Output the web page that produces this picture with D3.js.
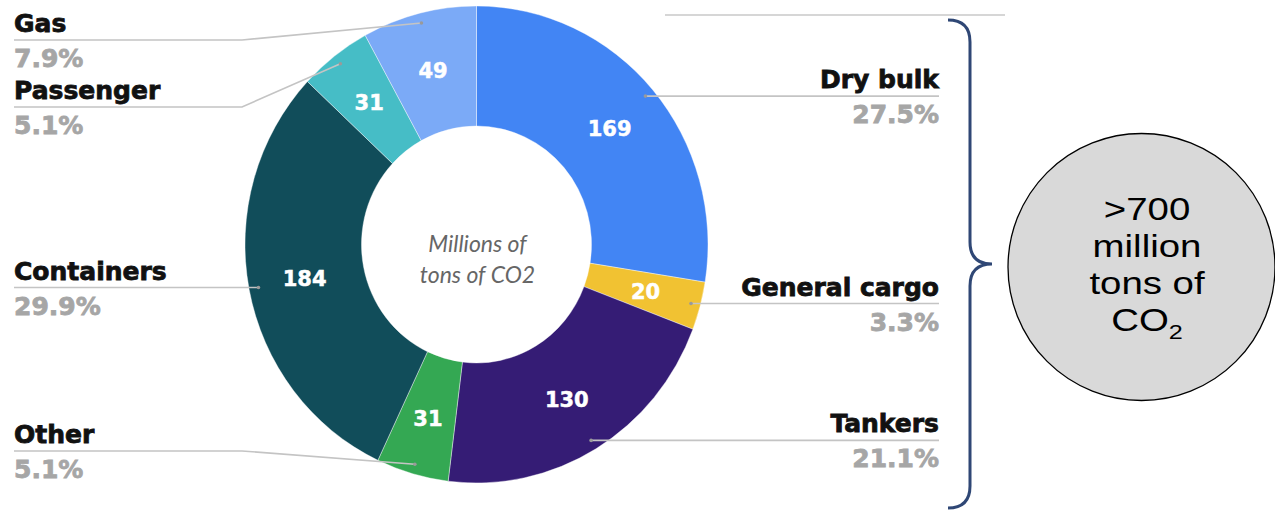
<!DOCTYPE html>
<html>
<head>
<meta charset="utf-8">
<script src="https://cdn.jsdelivr.net/npm/d3@7"></script>
<style>
  body { margin: 0; background: #fff; }
  svg { display: block; }
</style>
</head>
<body>
<div id="chart"></div>
<script>
var categories = ['Dry bulk', 'General cargo', 'Tankers', 'Other', 'Containers', 'Passenger', 'Gas'],
    values = [169, 20, 130, 31, 184, 31, 49],
    shares = ['27.5%', '3.3%', '21.1%', '5.1%', '29.9%', '5.1%', '7.9%'],
    colors = ['#4285f4', '#f1c232', '#351c75', '#34a853', '#114d5a', '#46bdc6', '#7baaf7'],
    centerLines = ['Millions of', 'tons of CO2'],
    totalLines = ['>700', 'million', 'tons of']

var width = 1275,
    height = 512,
    cx = 476.5, cy = 244.5,
    rOuter = 231.5, rInner = 115,
    squash = 238.5 / 231.5

// where the callout text sits: side, y of the leader line
var layout = {
    'Dry bulk':      {side: 'right'},
    'General cargo': {side: 'right'},
    'Tankers':       {side: 'right'},
    'Other':         {side: 'left', lineY: 451},
    'Containers':    {side: 'left'},
    'Passenger':     {side: 'left', lineY: 107},
    'Gas':           {side: 'left', lineY: 40}
}
var leftX = 14, elbowX = 242, rightX = 939

var data = categories.map(function(c, i) {
    return {name: c, value: values[i], share: shares[i], color: colors[i]}
})

var svg = d3.select('#chart').append('svg')
    .attr('width', width)
    .attr('height', height)

var pie = d3.pie().sort(null).value(function(d) { return d.value })
var arcs = pie(data)

var arc = d3.arc().innerRadius(rInner).outerRadius(rOuter)
var midArc = d3.arc().innerRadius(175).outerRadius(175)
var dotArc = d3.arc().innerRadius(222).outerRadius(222)

var donut = svg.append('g')
    .attr('transform', 'translate(' + cx + ',' + cy + ') scale(1,' + squash + ')')

donut.selectAll('path')
    .data(arcs)
    .enter().append('path')
    .attr('d', arc)
    .attr('fill', function(d) { return d.data.color })
    .attr('stroke', '#fff')
    .attr('stroke-width', 0.4)

function pt(a, d) {
    var c = a.centroid(d)
    return [cx + c[0], cy + c[1] * squash]
}

// value labels
svg.selectAll('text.val')
    .data(arcs)
    .enter().append('text')
    .attr('class', 'val')
    .attr('x', function(d) { return pt(midArc, d)[0] })
    .attr('y', function(d) { return pt(midArc, d)[1] + 8 })
    .attr('text-anchor', 'middle')
    .attr('fill', '#fff')
    .attr('stroke', '#fff')
    .attr('stroke-width', 0.5)
    .style('font', 'bold 21px "DejaVu Sans"')
    .text(function(d) { return d.data.value })

// leader lines
var line = d3.line()
svg.selectAll('path.lead')
    .data(arcs)
    .enter().append('path')
    .attr('class', 'lead')
    .attr('fill', 'none')
    .attr('stroke', '#c4c4c4')
    .attr('stroke-width', 1.6)
    .attr('d', function(d) {
        var p = pt(dotArc, d), L = layout[d.data.name]
        if (L.side == 'right') return line([p, [rightX, p[1]]])
        var y = L.lineY != null ? L.lineY : p[1]
        return line([p, [elbowX, y], [leftX, y]])
    })

svg.selectAll('circle.dot')
    .data(arcs)
    .enter().append('circle')
    .attr('class', 'dot')
    .attr('cx', function(d) { return pt(dotArc, d)[0] })
    .attr('cy', function(d) { return pt(dotArc, d)[1] })
    .attr('r', 1.8)
    .attr('fill', '#9a9a9a')

// callout labels
var labels = svg.selectAll('g.lab')
    .data(arcs)
    .enter().append('g')
    .attr('class', 'lab')
    .attr('transform', function(d) {
        var L = layout[d.data.name]
        var y = L.lineY != null ? L.lineY : pt(dotArc, d)[1]
        return 'translate(' + (L.side == 'right' ? rightX : leftX) + ',' + y + ')'
    })
    .attr('text-anchor', function(d) { return layout[d.data.name].side == 'right' ? 'end' : 'start' })

labels.append('text')
    .attr('y', -8)
    .attr('fill', '#111')
    .attr('stroke', '#111')
    .attr('stroke-width', 0.8)
    .style('font', 'bold 25px "DejaVu Sans"')
    .text(function(d) { return d.data.name })

labels.append('text')
    .attr('y', 27)
    .attr('fill', '#a6a6a6')
    .attr('stroke', '#a6a6a6')
    .attr('stroke-width', 0.8)
    .style('font', 'bold 25px "DejaVu Sans"')
    .text(function(d) { return d.data.share })

// centre caption
svg.append('g')
    .selectAll('text')
    .data(centerLines)
    .enter().append('text')
    .attr('x', cx + 1)
    .attr('y', function(d, i) { return 252 + i * 31 })
    .attr('text-anchor', 'middle')
    .attr('fill', '#666')
    .style('font', 'italic 23px Lato')
    .text(function(d) { return d })

// top rule
svg.append('line')
    .attr('x1', 665).attr('x2', 1005)
    .attr('y1', 15).attr('y2', 15)
    .attr('stroke', '#c8c8c8')
    .attr('stroke-width', 1.3)

// curly brace
var bx = 970, tipX = 992, tipY = 264
svg.append('path')
    .attr('fill', 'none')
    .attr('stroke', '#2f4775')
    .attr('stroke-width', 3)
    .attr('d', 'M948,20 Q970,20 ' + bx + ',42 L' + bx + ',' + (tipY - 22) +
        ' Q' + bx + ',' + tipY + ' ' + tipX + ',' + tipY +
        ' Q' + bx + ',' + tipY + ' ' + bx + ',' + (tipY + 22) +
        ' L' + bx + ',486 Q' + bx + ',508 948,508')

// total bubble
svg.append('circle')
    .attr('cx', 1141.5).attr('cy', 267)
    .attr('r', 133.5)
    .attr('fill', '#d9d9d9')
    .attr('stroke', '#000')
    .attr('stroke-width', 1.3)

var tx = 1147
var bubble = svg.append('g')
    .attr('transform', 'translate(' + tx + ',0) scale(1.2,1)')
    .style('font', '32px "Liberation Sans"')
    .attr('fill', '#000')
    .attr('text-anchor', 'middle')

bubble.selectAll('text.tl')
    .data(totalLines)
    .enter().append('text')
    .attr('class', 'tl')
    .attr('y', function(d, i) { return 220 + i * 37 })
    .text(function(d) { return d })

var co = bubble.append('text')
    .attr('y', 331)
co.append('tspan').text('CO')
co.append('tspan').attr('dy', 8).style('font-size', '21px').text('2')
</script>
</body>
</html>
